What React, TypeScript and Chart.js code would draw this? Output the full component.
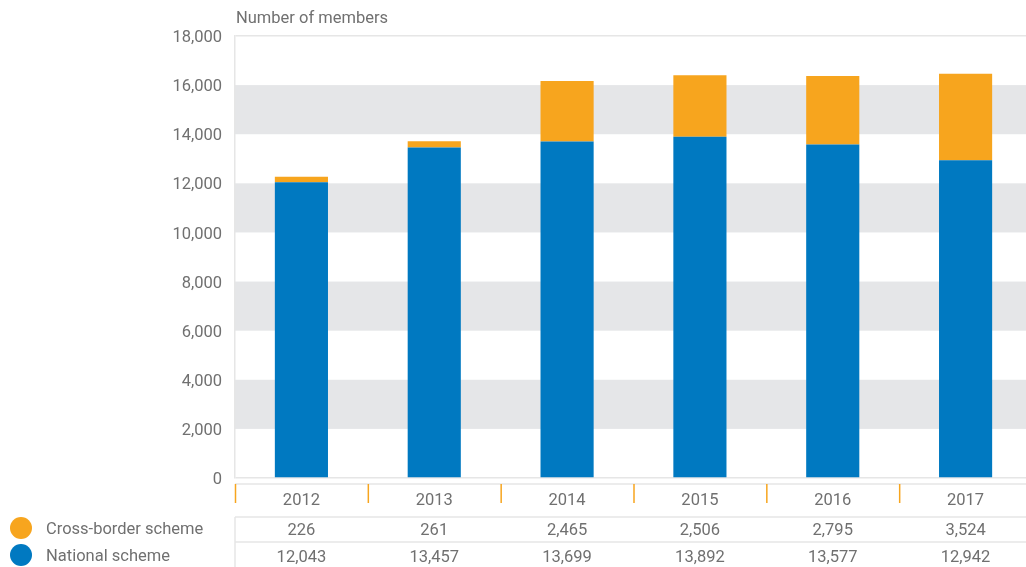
import React, { useEffect, useRef } from "react";
import { Chart, registerables } from "chart.js";

Chart.register(...registerables);

const years = ["2012", "2013", "2014", "2015", "2016", "2017"];
const nationalScheme = [12043, 13457, 13699, 13892, 13577, 12942];
const crossBorderScheme = [226, 261, 2465, 2506, 2795, 3524];
const yTicks = [0, 2000, 4000, 6000, 8000, 10000, 12000, 14000, 16000, 18000];
const bandRanges = [[2000, 4000], [6000, 8000], [10000, 12000], [14000, 16000]];
const seriesNames = ["Cross-border scheme", "National scheme"];
const axisTitle = "Number of members";

const ORANGE = "#F7A51E";
const BLUE = "#0079C1";
const TEXT = "#707070";
const LINE = "#e6e6e6";
const BAND = "#E5E6E8";
const FONT = "Roboto, 'Noto Sans', sans-serif";

const fmt = (v: number) => v.toLocaleString("en-US");

const decorPlugin = {
  id: "decor",
  beforeDraw(chart: any) {
    const { ctx, chartArea, scales } = chart;
    const y = scales.y;
    ctx.save();
    ctx.fillStyle = BAND;
    bandRanges.forEach(([a, b]) => {
      const top = y.getPixelForValue(b);
      const bot = y.getPixelForValue(a);
      ctx.fillRect(chartArea.left, top, chartArea.right - chartArea.left, bot - top);
    });
    ctx.restore();
  },
  afterDraw(chart: any) {
    const { ctx, chartArea, scales, width } = chart;
    const x = scales.x;
    const left = chartArea.left;
    const catW = (chartArea.right - chartArea.left) / years.length;
    ctx.save();
    // title
    ctx.font = `16.5px ${FONT}`;
    ctx.fillStyle = TEXT;
    ctx.textBaseline = "middle";
    ctx.textAlign = "left";
    ctx.fillText(axisTitle, left + 1, 19);

    // table lines
    ctx.strokeStyle = LINE;
    ctx.lineWidth = 1.5;
    [484, 517, 542].forEach((yy) => {
      ctx.beginPath();
      ctx.moveTo(left, yy);
      ctx.lineTo(width, yy);
      ctx.stroke();
    });
    ctx.beginPath();
    ctx.moveTo(left, 517);
    ctx.lineTo(left, 567);
    ctx.stroke();

    // orange separators
    ctx.strokeStyle = ORANGE;
    ctx.lineWidth = 1.5;
    for (let i = 0; i < years.length; i++) {
      const xx = left + i * catW + 0.5;
      ctx.beginPath();
      ctx.moveTo(xx, 484);
      ctx.lineTo(xx, 503);
      ctx.stroke();
    }

    // labels and values
    ctx.fillStyle = TEXT;
    ctx.font = `16.5px ${FONT}`;
    ctx.textAlign = "center";
    years.forEach((yr, i) => {
      const cx = x.getPixelForValue(i);
      ctx.fillText(yr, cx, 501);
      ctx.fillText(fmt(crossBorderScheme[i]), cx, 531);
      ctx.fillText(fmt(nationalScheme[i]), cx, 558);
    });

    // legend
    const legendColors = [ORANGE, BLUE];
    const legendY = [528, 555];
    seriesNames.forEach((name, i) => {
      ctx.fillStyle = legendColors[i];
      ctx.beginPath();
      ctx.arc(21, legendY[i], 11, 0, Math.PI * 2);
      ctx.fill();
      ctx.fillStyle = TEXT;
      ctx.textAlign = "left";
      ctx.font = `16.5px ${FONT}`;
      ctx.fillText(name, 46, legendY[i] + 2);
    });
    ctx.restore();
  },
};

export default function App() {
  const ref = useRef<HTMLCanvasElement | null>(null);
  useEffect(() => {
    if (!ref.current) return;
    const chart = new Chart(ref.current, {
      type: "bar",
      data: {
        labels: years,
        datasets: [
          {
            label: seriesNames[1],
            data: nationalScheme,
            backgroundColor: BLUE,
            borderWidth: 0,
            categoryPercentage: 0.4,
            barPercentage: 1,
          },
          {
            label: seriesNames[0],
            data: crossBorderScheme,
            backgroundColor: ORANGE,
            borderWidth: 0,
            categoryPercentage: 0.4,
            barPercentage: 1,
          },
        ],
      },
      options: {
        animation: false,
        responsive: false,
        devicePixelRatio: 1,
        layout: { padding: { top: 36, bottom: 89, left: 0, right: 8 } },
        plugins: { legend: { display: false }, tooltip: { enabled: false } },
        scales: {
          x: { display: false, stacked: true },
          y: {
            stacked: true,
            min: 0,
            max: 18000,
            afterFit: (s: any) => {
              s.width = 235;
            },
            afterBuildTicks: (s: any) => {
              s.ticks = yTicks.map((v) => ({ value: v }));
            },
            ticks: {
              padding: 13,
              labelOffset: 2,
              color: TEXT,
              font: { family: FONT, size: 16.5 },
              callback: (v: any) => fmt(Number(v)),
            },
            grid: {
              drawTicks: false,
              lineWidth: 1.5,
              color: (c: any) =>
                c.tick && (c.tick.value === 0 || c.tick.value === 18000) ? LINE : "transparent",
            },
            border: { display: true, color: LINE, width: 1.5 },
          },
        },
      },
      plugins: [decorPlugin],
    } as any);
    return () => chart.destroy();
  }, []);
  return (
    <div style={{ position: "fixed", left: 0, top: 0, width: 1026, height: 567, overflow: "hidden", background: "#fff" }}>
      <canvas ref={ref} width={1040} height={567} style={{ display: "block", width: 1040, height: 567 }} />
    </div>
  );
}
